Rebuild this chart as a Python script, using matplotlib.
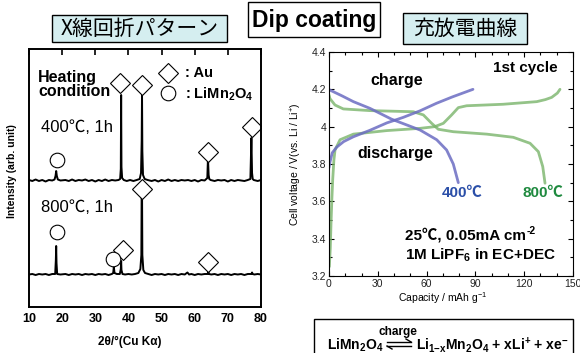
import numpy as np
import matplotlib
matplotlib.use('Agg')
import matplotlib.pyplot as plt
from matplotlib.patches import Rectangle
from matplotlib.lines import Line2D
from matplotlib.ticker import MultipleLocator

plt.rcParams['font.family'] = ['Liberation Sans', 'Noto Sans CJK JP', 'DejaVu Sans']
plt.rcParams['mathtext.fontset'] = 'custom'
plt.rcParams['mathtext.rm'] = 'Liberation Sans'
plt.rcParams['mathtext.it'] = 'Liberation Sans:italic'
plt.rcParams['mathtext.bf'] = 'Liberation Sans:bold'

W, H = 580, 353

# --- XRD patterns: (2theta, intensity above baseline) ---
xrd_400 = [(10, 1), (11, 0), (12, 1.5), (13, 0), (14, 1), (15, -0.5), (16, 1), (17, 0.5),
           (17.7, 1.5), (18.0, 5), (18.2, 10), (18.4, 5), (18.7, 1.5), (19.5, 0.5), (21, 1),
           (22, 0), (23, 1.5), (24, 0), (25, 1), (26, 0.5), (27, 1.5), (28, 0), (29, 1),
           (30, -0.5), (31, 1), (32, 0), (33, 1.5), (34, 0), (35, 1), (36, 0.5), (37, 1),
           (37.5, 2), (37.7, 12), (37.8, 86), (37.9, 14), (38.1, 3), (38.6, 1), (39.5, 0),
           (40.5, 1), (41.5, 0), (42.5, 1), (43.4, 2), (43.8, 8), (44.0, 40), (44.1, 88),
           (44.2, 30), (44.4, 6), (44.9, 2), (45.8, 1), (47, 0), (48, 1), (49, -0.5), (50, 1),
           (51, 0), (52, 1.5), (53, 0), (54, 1), (55, 0), (56, 1), (57, 0.5), (58, 1), (59, 0),
           (60, 1), (61, -0.5), (62, 1), (63, 0.5), (63.8, 3), (64.0, 23), (64.2, 6), (64.4, 2),
           (64.8, 1), (66, 0), (67, 1), (68, 0.5), (69, 1), (70, -0.5), (71, 1), (72, 0), (73, 1),
           (74, 0.5), (75, 0), (76, 1), (76.8, 2), (77.1, 43), (77.3, 8), (77.5, 2), (77.8, 1),
           (79, 0), (80, 1)]
xrd_800 = [(10, 0.5), (11, 1), (12, 0), (13, 1), (14, 0.5), (15, 1), (16, 0), (17, 1), (17.9, 1),
           (18.1, 15), (18.2, 29), (18.3, 12), (18.5, 1), (19.5, 0.5), (21, 1), (22, 0), (23, 1),
           (24, 0.5), (25, 1), (26, 0), (27, 1), (28, 0.5), (29, 1), (30, 0), (31, 1), (32, 0.5),
           (33, 1), (34, 0), (35, 1), (35.4, 2), (35.6, 8), (35.8, 2), (36.5, 1), (37.4, 1),
           (37.7, 6), (37.8, 14), (37.9, 5), (38.2, 1), (39, 0.5), (40, 1), (41, 0.5), (42, 1),
           (43, 2), (43.6, 6), (43.9, 20), (44.0, 88), (44.1, 88), (44.2, 20), (44.5, 5), (45, 2),
           (46, 1), (47, 0), (48, 1), (49, 0.5), (50, 1), (51, 0), (52, 1), (53, 0.5), (54, 1),
           (55, 0), (56, 1), (57, 0.5), (57.8, 2.5), (58.3, 0.5), (59, 1), (60, 0), (61, 1),
           (62, 0.5), (63, 1), (63.9, 1), (64.1, 3.5), (64.3, 1), (65, 0.5), (66, 1), (67, 0),
           (68, 1), (69, 0.5), (70, 1), (71, 0), (72, 1), (73, 0.5), (74, 1), (75, 0), (76, 1),
           (77.1, 1), (77.3, 2.5), (77.5, 1), (78, 0.5), (79, 1), (80, 0.5)]
base_400 = 126
base_800 = 32

# peak markers (2theta, height on the plot)
au_400 = [(37.5, 224), (44.0, 222), (64.0, 155), (77.3, 180)]
lmo_400 = [(18.4, 147)]
au_800 = [(38.3, 57), (44.0, 118), (64.0, 45)]
lmo_800 = [(18.4, 75), (35.2, 48)]
xrd_ticks = [10, 20, 30, 40, 50, 60, 70, 80]

# --- charge / discharge curves, 1st cycle ---
cap_400_chg = [0, 0.6, 2, 4.7, 9, 15, 25, 35.5, 45.7, 56, 66, 76, 88.5]
v_400_chg = [3.78, 3.81, 3.86, 3.89, 3.92, 3.946, 3.98, 4.02, 4.05, 4.085, 4.125, 4.16, 4.2]
cap_400_dis = [0, 0.6, 8, 15, 25.2, 38.5, 56, 66.2, 72.3, 76.4, 79.5]
v_400_dis = [4.2, 4.196, 4.165, 4.134, 4.098, 4.04, 3.982, 3.93, 3.875, 3.80, 3.70]
cap_800_chg = [0.2, 0.8, 1.3, 1.8, 2.3, 3.0, 3.7, 6.8, 15, 35.5, 56, 65, 70.3, 75.4, 79.5,
               84.6, 107, 127.7, 133, 136.9, 140.4, 142]
v_800_chg = [3.25, 3.35, 3.5, 3.62, 3.72, 3.82, 3.875, 3.93, 3.96, 3.979, 3.991, 4.0, 4.018,
             4.063, 4.102, 4.112, 4.12, 4.134, 4.145, 4.157, 4.18, 4.2]
cap_800_dis = [0, 0.6, 3.7, 8.8, 25.2, 51.8, 58, 63.1, 67.2, 76.4, 97, 113.3, 123.6, 128.7,
               131.4, 132.8]
v_800_dis = [4.17, 4.15, 4.116, 4.095, 4.086, 4.08, 4.063, 4.018, 3.986, 3.973, 3.96, 3.943,
             3.911, 3.866, 3.786, 3.697]
v_ticks = [3.2, 3.4, 3.6, 3.8, 4.0, 4.2, 4.4]
v_ticklabels = ['3.2', '3.4', '3.6', '3.8', '4', '4.2', '4.4']
cap_ticks = [0, 30, 60, 90, 120, 150]

blue = '#6b6cc2'
green = '#79b46a'
box_bg = '#d5eef0'


def px_rect(x0, y0, x1, y1):
    return [x0 / W, 1 - y1 / H, (x1 - x0) / W, (y1 - y0) / H]


def fx(x):
    return x / W


def fy(y):
    return 1 - y / H


fig = plt.figure(figsize=(W / 100, H / 100), dpi=100)

# ---------------- XRD ----------------
ax1 = fig.add_axes(px_rect(29, 49, 261, 307))
for data, base in [(xrd_400, base_400), (xrd_800, base_800)]:
    arr = np.array(data)
    ax1.plot(arr[:, 0], arr[:, 1] + base, color='black', lw=1.4)
for pts, mk in [(au_400, 'D'), (au_800, 'D'), (lmo_400, 'o'), (lmo_800, 'o')]:
    arr = np.array(pts)
    ax1.plot(arr[:, 0], arr[:, 1], ls='none', marker=mk, ms=10.5 if mk == 'o' else 10,
             mfc='white', mec='black', mew=0.8)
ax1.plot([51.9], [234], marker='D', ms=10, mfc='white', mec='black', mew=0.8)
ax1.plot([51.9], [214], marker='o', ms=10.5, mfc='white', mec='black', mew=0.8)
ax1.text(57.0, 234, ': Au', fontsize=10.5, fontweight='bold', va='center')
ax1.text(57.0, 213, r': LiMn$_\mathbf{2}$O$_\mathbf{4}$', fontsize=10.5, fontweight='bold', va='center')
ax1.text(12.7, 237, 'Heating\ncondition', fontsize=11.5, fontweight='bold', va='top',
         linespacing=0.88)
ax1.text(13.6, 180, '400℃, 1h', fontsize=12, va='center')
ax1.text(13.6, 100, '800℃, 1h', fontsize=12, va='center')
ax1.set_xlim(10, 80)
ax1.set_ylim(0, 258)
ax1.set_xticks(xrd_ticks)
ax1.set_xticklabels([str(t) for t in xrd_ticks], fontsize=9, fontweight='bold')
ax1.set_yticks([])
ax1.tick_params(axis='x', top=True, bottom=False, direction='in', length=4, width=1.2, pad=4)
for s in ax1.spines.values():
    s.set_linewidth(1.4)
fig.text(fx(130), fy(342), '2θ/°(Cu Kα)', fontsize=8.5, fontweight='bold', ha='center', va='center')
fig.text(fx(12), fy(171), 'Intensity (arb. unit)', fontsize=7.5, fontweight='bold',
         rotation=90, ha='center', va='center')

# ---------------- charge / discharge ----------------
ax2 = fig.add_axes(px_rect(329, 52, 573, 276))
ax2.plot(cap_800_chg, v_800_chg, color=green, lw=2, alpha=0.8, solid_capstyle='round')
ax2.plot(cap_800_dis, v_800_dis, color=green, lw=2, alpha=0.8, solid_capstyle='round')
ax2.plot(cap_400_chg, v_400_chg, color=blue, lw=2, alpha=0.85, solid_capstyle='round')
ax2.plot(cap_400_dis, v_400_dis, color=blue, lw=2, alpha=0.85, solid_capstyle='round')
ax2.set_xlim(0, 150)
ax2.set_ylim(3.2, 4.4)
ax2.set_xticks(cap_ticks)
ax2.set_xticklabels([str(t) for t in cap_ticks], fontsize=7.5, color='#222222')
ax2.set_yticks(v_ticks)
ax2.set_yticklabels(v_ticklabels, fontsize=7.5, color='#222222')
ax2.xaxis.set_minor_locator(MultipleLocator(10))
ax2.yaxis.set_minor_locator(MultipleLocator(0.1))
ax2.tick_params(which='both', direction='in', top=True, right=True, width=0.8)
ax2.tick_params(which='major', length=3.5, pad=2)
ax2.tick_params(which='minor', length=2)
ax2.text(41.8, 4.245, 'charge', fontsize=11.5, fontweight='bold', ha='center', va='center')
ax2.text(120.5, 4.314, '1st cycle', fontsize=11, fontweight='bold', ha='center', va='center')
ax2.text(40.6, 3.854, 'discharge', fontsize=11.5, fontweight='bold', ha='center', va='center')
ax2.text(81.8, 3.645, '400℃', fontsize=11, fontweight='bold', color='#2b4fa8', ha='center', va='center')
ax2.text(131.6, 3.645, '800℃', fontsize=11, fontweight='bold', color='#1f8a3f', ha='center', va='center')
cond = ax2.text(46.7, 3.42, '25℃, 0.05mA cm', fontsize=11, fontweight='bold', va='center')
ax2.annotate('-2', xy=(1, 1), xycoords=cond, xytext=(0.5, 1), textcoords='offset points',
             fontsize=7.5, fontweight='bold', va='top', ha='left')
ax2.text(46.7, 3.313, r'1M LiPF$_\mathbf{6}$ in EC+DEC', fontsize=11, fontweight='bold', va='center')
fig.text(fx(443), fy(298), r'Capacity / mAh g$^{-1}$', fontsize=7.5, ha='center', va='center')
fig.text(fx(296), fy(164), r'Cell voltage / V(vs. Li / Li$^{+}$)', fontsize=7.5, rotation=90,
         ha='center', va='center')

# ---------------- title boxes ----------------
fig.patches.append(Rectangle((fx(52), fy(42)), (227 - 52) / W, (42 - 15) / H,
                             transform=fig.transFigure, fc=box_bg, ec='black', lw=1))
fig.text(fx(139.5), fy(28.5), 'X線回折パターン', fontsize=15, ha='center', va='center',
         family=['Noto Sans CJK JP', 'DejaVu Sans'])
fig.patches.append(Rectangle((fx(248), fy(37)), (380 - 248) / W, (37 - 2) / H,
                             transform=fig.transFigure, fc='white', ec='black', lw=1))
fig.text(fx(314), fy(20), 'Dip coating', fontsize=16.5, fontweight='bold', ha='center', va='center',
         family=['DejaVu Sans Condensed', 'Liberation Sans Narrow', 'Liberation Sans'],
         fontstretch='condensed')
fig.patches.append(Rectangle((fx(403), fy(44)), (527 - 403) / W, (44 - 13) / H,
                             transform=fig.transFigure, fc=box_bg, ec='black', lw=1))
fig.text(fx(465), fy(29), '充放電曲線', fontsize=15, ha='center', va='center',
         family=['Noto Sans CJK JP', 'DejaVu Sans'])

# ---------------- reaction box ----------------
fig.patches.append(Rectangle((fx(314), fy(360)), (573 - 314) / W, (360 - 319) / H,
                             transform=fig.transFigure, fc='white', ec='black', lw=1))
fig.text(fx(327), fy(345), r'LiMn$_\mathbf{2}$O$_\mathbf{4}$', fontsize=10, fontweight='bold',
         va='center')
fig.text(fx(398), fy(332), 'charge', fontsize=8.5, fontweight='bold', ha='center', va='center')
# equilibrium harpoons
ya, yb = fy(342), fy(346)
fig.add_artist(Line2D([fx(387), fx(411)], [ya, ya], color='black', lw=1))
fig.add_artist(Line2D([fx(406), fx(411)], [fy(339), ya], color='black', lw=1))
fig.add_artist(Line2D([fx(387), fx(411)], [yb, yb], color='black', lw=1))
fig.add_artist(Line2D([fx(387), fx(392)], [yb, fy(349)], color='black', lw=1))
fig.text(fx(416), fy(345), r'Li$_\mathbf{1{-}x}$Mn$_\mathbf{2}$O$_\mathbf{4}$ + xLi$^\mathbf{+}$ + xe$^\mathbf{-}$',
         fontsize=10, fontweight='bold', va='center')

fig.savefig('out.png', dpi=100)
